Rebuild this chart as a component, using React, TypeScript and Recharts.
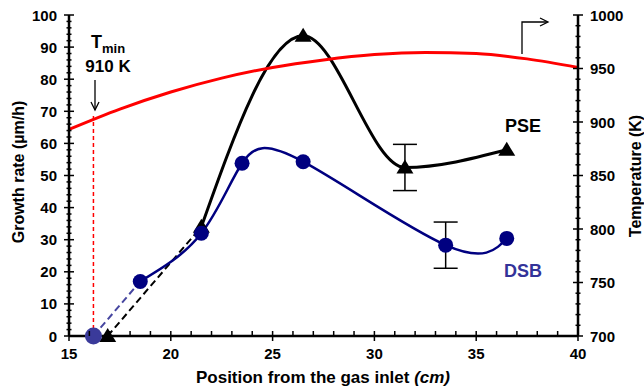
import React from 'react';
import { LineChart, Line, XAxis, YAxis, ErrorBar, ReferenceLine } from 'recharts';

// axis ticks
const xTicks = [15, 16, 17, 18, 19, 20, 21, 22, 23, 24, 25, 26, 27, 28, 29, 30, 31, 32, 33, 34, 35, 36, 37, 38, 39, 40];
const xMajor = [15, 20, 25, 30, 35, 40];
const rateTicks = [0, 2, 4, 6, 8, 10, 12, 14, 16, 18, 20, 22, 24, 26, 28, 30, 32, 34, 36, 38, 40, 42, 44, 46, 48, 50,
    52, 54, 56, 58, 60, 62, 64, 66, 68, 70, 72, 74, 76, 78, 80, 82, 84, 86, 88, 90, 92, 94, 96, 98, 100];
const rateMajor = [0, 10, 20, 30, 40, 50, 60, 70, 80, 90, 100];
const tempTicks = [700, 710, 720, 730, 740, 750, 760, 770, 780, 790, 800, 810, 820, 830, 840, 850, 860, 870, 880, 890,
    900, 910, 920, 930, 940, 950, 960, 970, 980, 990, 1000];
const tempMajor = [700, 750, 800, 850, 900, 950, 1000];

// DSB growth rate (µm/h)
const dsbPos = [18.5, 21.5, 23.5, 26.5, 33.5, 36.5];
const dsbRate = [17, 32, 53.8, 54.3, 28.3, 30.4];
const dsbStartPos = [16.2, 18.5];
const dsbStartRate = [0, 17];
const dsbErrPos = [33.5];
const dsbErrRate = [28.3];
const dsbErr = [7.2];

// PSE growth rate (µm/h)
const psePos = [21.5, 26.5, 31.5, 36.5];
const pseRate = [34, 93.5, 52.5, 58];
const pseStartPos = [16.9, 21.5];
const pseStartRate = [0, 34];
const pseErrPos = [31.5];
const pseErrRate = [52.5];
const pseErr = [7.2];

// substrate temperature (K)
const tempPos = [15, 17.5, 20, 22.5, 25, 27.5, 30, 32.5, 35, 37.5, 40];
const tempK = [893, 912, 928, 941, 951, 958, 963, 965, 964, 959, 951];

// T min marker
const tMinPos = 16.2;
const tMinRate = 68.5;

const zip = (xs: number[], ys: number[]) => xs.map((x, i) => ({ x, y: ys[i] }));

const dsbData = zip(dsbPos, dsbRate);
const dsbStart = zip(dsbStartPos, dsbStartRate);
const dsbErrData = dsbErrPos.map((x, i) => ({ x, y: dsbErrRate[i], err: dsbErr[i] }));
const pseData = zip(psePos, pseRate);
const pseStart = zip(pseStartPos, pseStartRate);
const pseErrData = pseErrPos.map((x, i) => ({ x, y: pseErrRate[i], err: pseErr[i] }));
const tempData = zip(tempPos, tempK);

const FONT = '"Liberation Sans", Arial, sans-serif';

const XTick = (props: any) => {
    const { x, y, payload } = props;
    const major = xMajor.includes(payload.value);
    return (
        <g>
            <line x1={x} x2={x} y1={y - 5} y2={major ? y + 5 : y} stroke="#000" strokeWidth={1.5} />
            {major && (
                <text x={x} y={y + 17} textAnchor="middle" dominantBaseline="central"
                    fontFamily={FONT} fontWeight="bold" fontSize={15} fill="#000">{payload.value}</text>
            )}
        </g>
    );
};

const LeftTick = (props: any) => {
    const { x, y, payload } = props;
    const major = rateMajor.includes(payload.value);
    const s = major ? 5 : 2.5;
    return (
        <g>
            <line x1={x - s} x2={x + s} y1={y} y2={y} stroke="#000" strokeWidth={1.5} />
            {major && (
                <text x={x - 12} y={y} textAnchor="end" dominantBaseline="central"
                    fontFamily={FONT} fontWeight="bold" fontSize={15} fill="#000">{payload.value}</text>
            )}
        </g>
    );
};

const RightTick = (props: any) => {
    const { x, y, payload } = props;
    const major = tempMajor.includes(payload.value);
    const s = major ? 5 : 2.5;
    return (
        <g>
            <line x1={x - s} x2={x + s} y1={y} y2={y} stroke="#000" strokeWidth={1.5} />
            {major && (
                <text x={x + 12} y={y} textAnchor="start" dominantBaseline="central"
                    fontFamily={FONT} fontWeight="bold" fontSize={15} fill="#000">{payload.value}</text>
            )}
        </g>
    );
};

const triangle = (props: any) => {
    const { cx, cy, index } = props;
    return <path key={`t${index}`} d={`M${cx},${cy - 8} L${cx + 8.5},${cy + 6} L${cx - 8.5},${cy + 6} Z`} fill="#000" />;
};
const firstTriangle = (props: any) => (props.index === 0 ? triangle(props) : <g key={`n${props.index}`} />);
const noDot = (props: any) => <g key={`e${props.index}`} />;

const navyDot = (props: any) => {
    const { cx, cy, index } = props;
    return <circle key={`c${index}`} cx={cx} cy={cy} r={7.5} fill="#000080" />;
};
const firstDot = (props: any) => {
    const { cx, cy, index } = props;
    if (index !== 0) return <g key={`n${index}`} />;
    return <circle key={`s${index}`} cx={cx} cy={cy} r={8.5} fill="#3a3a9a" />;
};

export default function App() {
    return (
        <div style={{ position: 'absolute', left: 0, top: 0, width: 644, height: 390, background: '#fff' }}>
            <LineChart width={644} height={390} margin={{ top: 15, right: 0, bottom: 0, left: 0 }}>
                <XAxis type="number" dataKey="x" domain={[15, 40]} ticks={xTicks} interval={0}
                    tickSize={0} tickMargin={0} tick={<XTick />} height={54}
                    axisLine={{ stroke: '#000', strokeWidth: 2.5 }} tickLine={false} />
                <YAxis yAxisId="left" type="number" domain={[0, 100]} ticks={rateTicks} interval={0}
                    tickSize={0} tickMargin={0} tick={<LeftTick />} width={69}
                    axisLine={{ stroke: '#000', strokeWidth: 2.5 }} tickLine={false} />
                <YAxis yAxisId="right" orientation="right" type="number" domain={[700, 1000]} ticks={tempTicks} interval={0}
                    tickSize={0} tickMargin={0} tick={<RightTick />} width={66}
                    axisLine={{ stroke: '#000', strokeWidth: 2.5 }} tickLine={false} />

                <ReferenceLine yAxisId="left" segment={[{ x: tMinPos, y: 0 }, { x: tMinPos, y: tMinRate }]}
                    stroke="#ff0000" strokeWidth={1.5} strokeDasharray="4 3" />

                {/* PSE */}
                <Line yAxisId="left" data={pseStart} dataKey="y" type="linear" stroke="#000" strokeWidth={2}
                    strokeDasharray="7 4" dot={firstTriangle} activeDot={false} isAnimationActive={false} />
                <Line yAxisId="left" data={pseData} dataKey="y" type="monotone" stroke="#000" strokeWidth={3}
                    dot={triangle} activeDot={false} isAnimationActive={false} />

                {/* temperature */}
                <Line yAxisId="right" data={tempData} dataKey="y" type="monotone" stroke="#ff0000" strokeWidth={3}
                    dot={false} activeDot={false} isAnimationActive={false} />

                {/* DSB */}
                <Line yAxisId="left" data={dsbStart} dataKey="y" type="linear" stroke="#4646a0" strokeWidth={2}
                    strokeDasharray="7 4" dot={firstDot} activeDot={false} isAnimationActive={false} />
                <Line yAxisId="left" data={dsbData} dataKey="y" type="natural" stroke="#000080" strokeWidth={2.5}
                    dot={navyDot} activeDot={false} isAnimationActive={false} />

                {/* error bars */}
                <Line yAxisId="left" data={pseErrData} dataKey="y" stroke="none" dot={noDot} activeDot={false} isAnimationActive={false}>
                    <ErrorBar dataKey="err" width={12} stroke="#000" strokeWidth={1.5} isAnimationActive={false} />
                </Line>
                <Line yAxisId="left" data={dsbErrData} dataKey="y" stroke="none" dot={noDot} activeDot={false} isAnimationActive={false}>
                    <ErrorBar dataKey="err" width={12} stroke="#000" strokeWidth={1.5} isAnimationActive={false} />
                </Line>
            </LineChart>

            <svg width={644} height={390} style={{ position: 'absolute', left: 0, top: 0, pointerEvents: 'none' }}
                fontFamily={FONT} fontWeight="bold">
                {/* axis titles */}
                <text x={24} y={172} textAnchor="middle" fontSize={16} transform="rotate(-90 24 172)">Growth rate (µm/h)</text>
                <text x={641} y={176} textAnchor="middle" fontSize={16} transform="rotate(-90 641 176)">Temperature (K)</text>
                <text x={323} y={383} textAnchor="middle" fontSize={17}>
                    Position from the gas inlet <tspan fontStyle="italic">(cm)</tspan>
                </text>

                {/* T min annotation */}
                <text x={91} y={48} textAnchor="start" fontSize={18}>
                    T<tspan fontSize={13} dy={5}>min</tspan>
                </text>
                <text x={108} y={72} textAnchor="middle" fontSize={17}>910 K</text>
                <g stroke="#000" strokeWidth={1.3} fill="none">
                    <line x1={95} y1={80} x2={95} y2={110} />
                    <polyline points="91,102 95,110 99,102" />
                </g>

                {/* arrow to right axis */}
                <g stroke="#000" strokeWidth={1.3} fill="none">
                    <polyline points="522,54 522,22 547,22" />
                    <polyline points="540,18 548,22 540,26" />
                </g>

                <text x={505} y={132} fontSize={18} fill="#000">PSE</text>
                <text x={504} y={277} fontSize={18} fill="#333399">DSB</text>
            </svg>
        </div>
    );
}
